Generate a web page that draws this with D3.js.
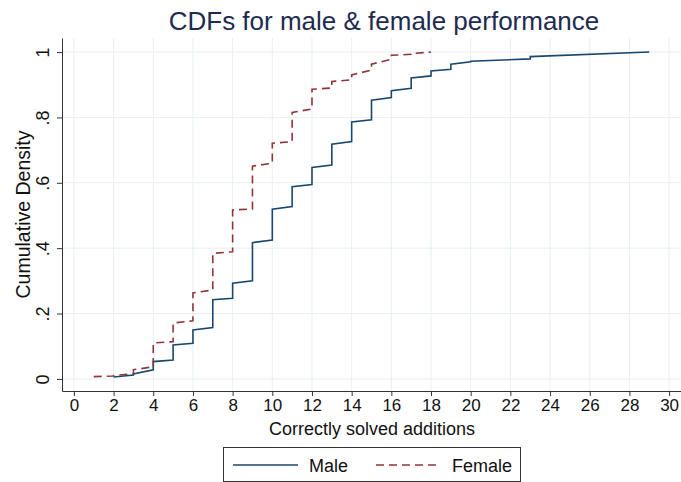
<!DOCTYPE html>
<html>
<head>
<meta charset="utf-8">
<script src="https://cdn.jsdelivr.net/npm/d3@7"></script>
<style>
body { margin: 0; background: #fff; }
svg text { font-family: "Liberation Sans", Arial, sans-serif; fill: #111; }
.title { fill: #1e2b4f; }
</style>
</head>
<body>
<svg id="chart"></svg>
<script>
// step points of the empirical CDFs: at each score x the curve climbs from lo to hi
const maleX  = [2, 3, 4, 5, 6, 7, 8, 9, 10, 11, 12, 13, 14, 15, 16, 17, 18, 19, 20, 23, 29];
const maleLo = [.006, .012, .028, .058, .109, .157, .247, .300, .425, .527, .595, .654, .726, .793, .861, .889, .927, .947, .970, .979, 1];
const maleHi = [.006, .015, .053, .104, .150, .242, .293, .417, .519, .588, .647, .718, .786, .853, .882, .921, .942, .963, .972, .986, 1];

const femaleX  = [1, 2, 3, 4, 5, 6, 7, 8, 9, 10, 11, 12, 13, 14, 15, 16, 17, 18];
const femaleLo = [.007, .009, .016, .037, .114, .178, .272, .389, .520, .660, .726, .826, .890, .915, .945, .978, .993, 1];
const femaleHi = [.007, .010, .028, .110, .171, .263, .384, .517, .651, .721, .815, .886, .910, .930, .963, .990, .995, 1];

const xTicks = d3.range(0, 31, 2);
const yTicks = [0, .2, .4, .6, .8, 1];
const yTickLabels = ["0", ".2", ".4", ".6", ".8", "1"];

const width = 681, height = 482;

const margin = {top: 38, right: 0, bottom: 91, left: 62};

const svg = d3.select("#chart")
  .attr("width", width)
  .attr("height", height);

let x = d3.scaleLinear()
  .domain([-0.6, 30.6])
  .range([margin.left, width - margin.right]);

let y = d3.scaleLinear()
  .domain([-0.037, 1.043])
  .range([height - margin.bottom, margin.top]);

// grid
svg.append("g")
  .selectAll("line.vgrid")
  .data(xTicks)
  .enter()
  .append("line")
  .attr("x1", d => x(d)).attr("x2", d => x(d))
  .attr("y1", y.range()[0]).attr("y2", y.range()[1])
  .style("stroke", "#e8eff2")
  .style("stroke-width", 1);

svg.append("g")
  .selectAll("line.hgrid")
  .data(yTicks)
  .enter()
  .append("line")
  .attr("x1", x.range()[0]).attr("x2", x.range()[1])
  .attr("y1", d => y(d)).attr("y2", d => y(d))
  .style("stroke", "#e8eff2")
  .style("stroke-width", 1);

// axes
let xAxis = d3.axisBottom(x)
  .tickValues(xTicks)
  .tickSize(5)
  .tickPadding(3)
  .tickSizeOuter(0);

let gx = svg.append("g")
  .attr("transform", `translate(0,${height - margin.bottom})`)
  .call(xAxis);
gx.selectAll("text").style("font-size", "17px");

let yAxis = d3.axisLeft(y)
  .tickValues(yTicks)
  .tickSize(5)
  .tickSizeOuter(0)
  .tickFormat((d, i) => yTickLabels[i]);

let gy = svg.append("g")
  .attr("transform", `translate(${margin.left},0)`)
  .call(yAxis);
gy.selectAll(".tick text")
  .attr("x", null).attr("dy", null)
  .attr("transform", "translate(-13,0) rotate(-90)")
  .style("text-anchor", "middle")
  .style("font-size", "18px");

[gx, gy].forEach(g => {
  g.select(".domain").style("stroke", "#333");
  g.selectAll(".tick line").style("stroke", "#333");
});

// curves
const stepPoints = (xs, lo, hi) => xs.flatMap((v, i) => [[v, lo[i]], [v, hi[i]]]);

let line = d3.line()
  .x(d => x(d[0]))
  .y(d => y(d[1]));

svg.append("path")
  .datum(stepPoints(maleX, maleLo, maleHi))
  .attr("d", line)
  .style("fill", "none")
  .style("stroke", "#1a476f")
  .style("stroke-width", 1.6);

svg.append("path")
  .datum(stepPoints(femaleX, femaleLo, femaleHi))
  .attr("d", line)
  .style("fill", "none")
  .style("stroke", "#90353b")
  .style("stroke-width", 1.6)
  .style("stroke-dasharray", "8,5");

// titles
svg.append("text")
  .attr("class", "title")
  .attr("x", 384)
  .attr("y", 30)
  .style("text-anchor", "middle")
  .style("font-size", "26px")
  .text("CDFs for male & female performance");

svg.append("text")
  .attr("x", 372)
  .attr("y", 435)
  .style("text-anchor", "middle")
  .style("font-size", "18px")
  .text("Correctly solved additions");

svg.append("text")
  .attr("transform", `translate(30,${(y.range()[0] + y.range()[1]) / 2}) rotate(-90)`)
  .style("text-anchor", "middle")
  .style("font-size", "19.5px")
  .text("Cumulative Density");

// legend
let legend = svg.append("g");
legend.append("rect")
  .attr("x", 223.5).attr("y", 447.5)
  .attr("width", 297).attr("height", 34)
  .style("fill", "#fff")
  .style("stroke", "#333")
  .style("stroke-width", 1);

legend.append("line")
  .attr("x1", 233).attr("x2", 298).attr("y1", 465).attr("y2", 465)
  .style("stroke", "#1a476f").style("stroke-width", 1.5);
legend.append("text")
  .attr("x", 309).attr("y", 471.5)
  .style("font-size", "18px")
  .text("Male");

legend.append("line")
  .attr("x1", 376).attr("x2", 441).attr("y1", 465).attr("y2", 465)
  .style("stroke", "#90353b").style("stroke-width", 1.5)
  .style("stroke-dasharray", "8,5");
legend.append("text")
  .attr("x", 452).attr("y", 471.5)
  .style("font-size", "18px")
  .text("Female");
</script>
</body>
</html>
